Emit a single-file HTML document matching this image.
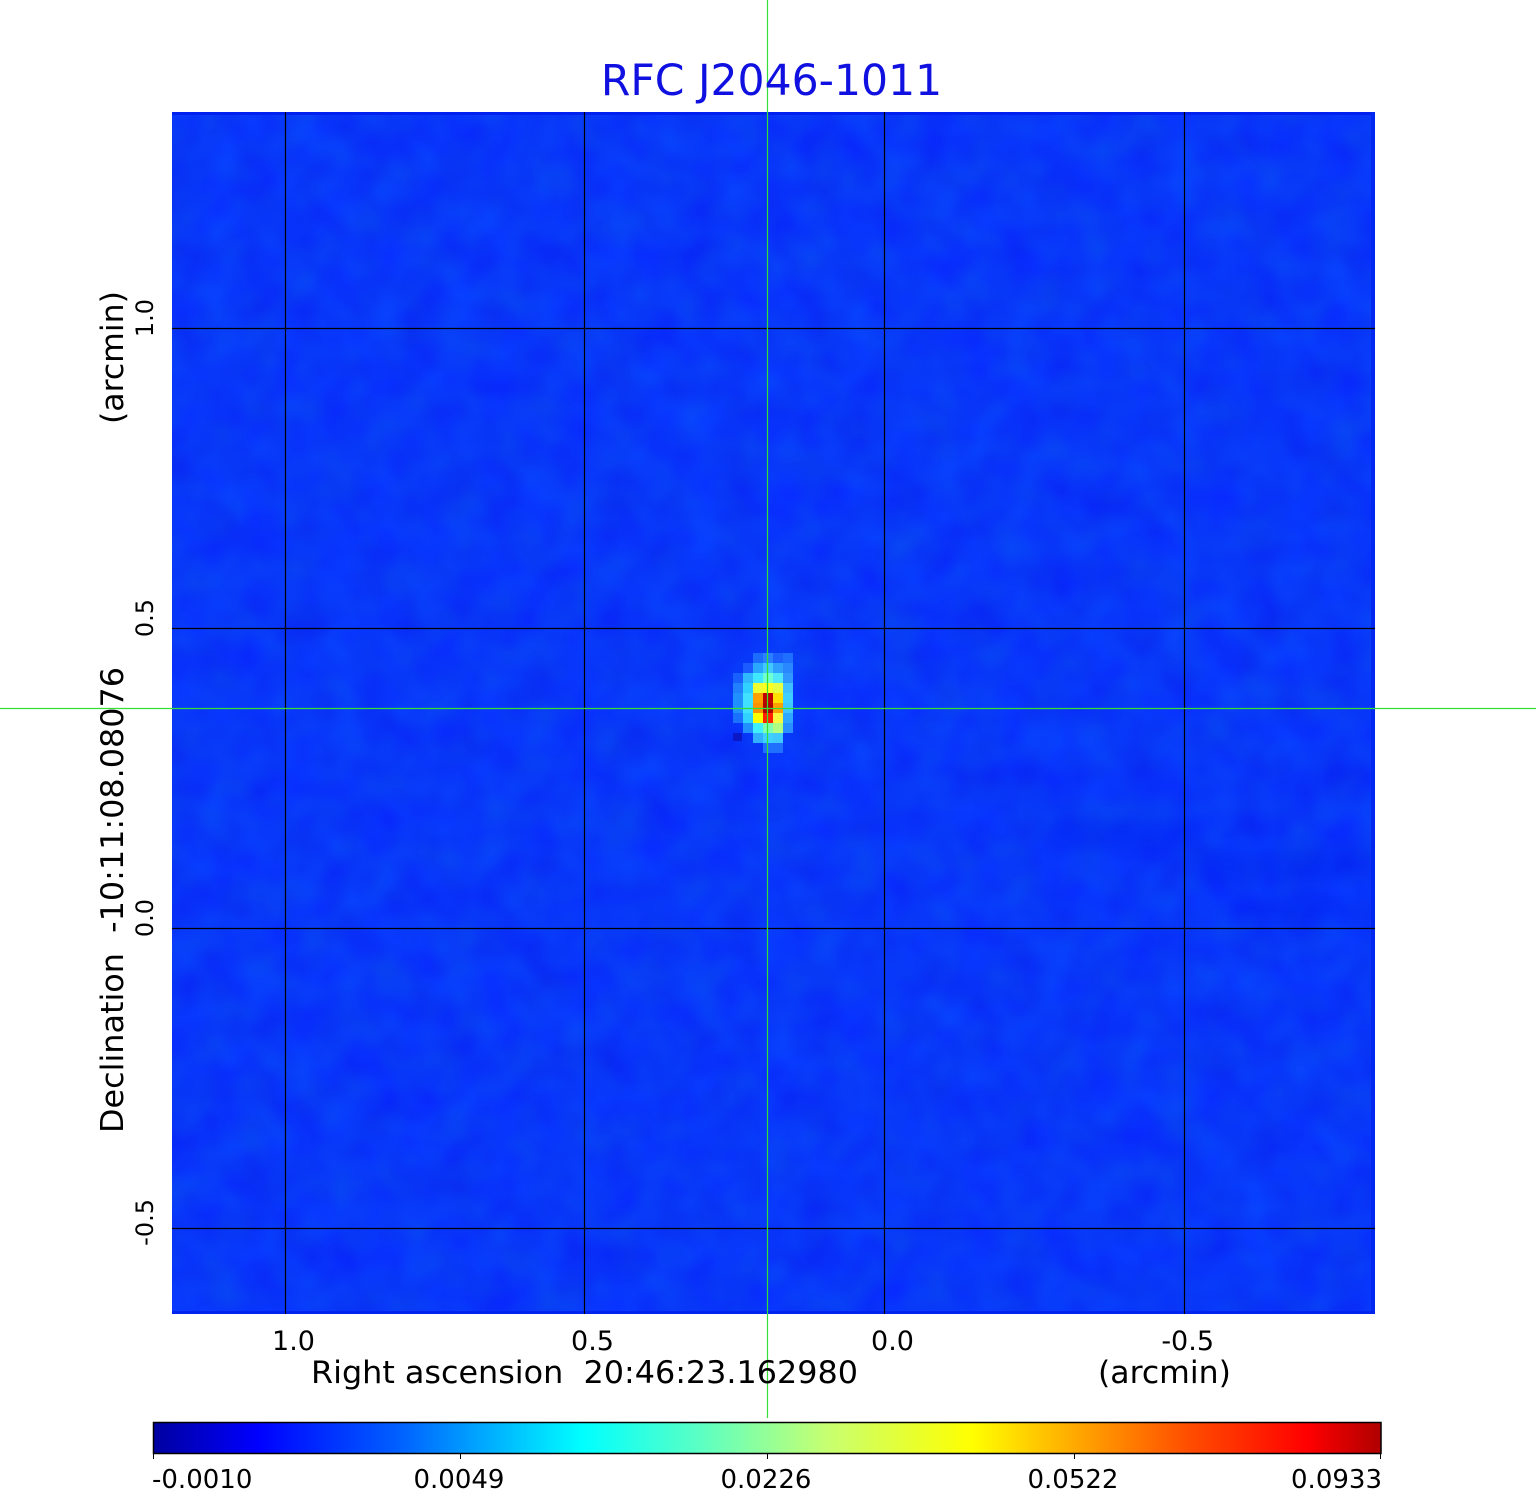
<!DOCTYPE html>
<html>
<head>
<meta charset="utf-8">
<style>
  html, body { margin: 0; padding: 0; background: #ffffff; }
  body { width: 1536px; height: 1511px; overflow: hidden; }
  svg { display: block; }
  text { font-family: "DejaVu Sans", "Liberation Sans", sans-serif; fill: #000; }
</style>
</head>
<body>
<svg width="1536" height="1511" viewBox="0 0 1536 1511" xmlns="http://www.w3.org/2000/svg">
  <defs>
    <linearGradient id="cb" x1="0" y1="0" x2="1" y2="0">
      <stop offset="0" stop-color="#0000a0"/>
      <stop offset="0.085" stop-color="#0000ff"/>
      <stop offset="0.2" stop-color="#0060ff"/>
      <stop offset="0.35" stop-color="#00ffff"/>
      <stop offset="0.45" stop-color="#60ffc0"/>
      <stop offset="0.55" stop-color="#c8ff70"/>
      <stop offset="0.667" stop-color="#ffff00"/>
      <stop offset="0.75" stop-color="#ffaa00"/>
      <stop offset="0.84" stop-color="#ff5000"/>
      <stop offset="0.94" stop-color="#ff0000"/>
      <stop offset="1" stop-color="#b00000"/>
    </linearGradient>
    <filter id="noise" x="0" y="0" width="100%" height="100%" filterUnits="objectBoundingBox" color-interpolation-filters="sRGB">
      <feTurbulence type="fractalNoise" baseFrequency="0.025" numOctaves="2" seed="7" result="t"/>
      <feColorMatrix in="t" type="matrix" values="0 0 0 0 0.03  0.24 0 0 0 0.10  0 0.12 0 0 0.9  0 0 0 0 1"/>
    </filter>
    <filter id="soft" x="-20%" y="-50%" width="140%" height="200%" color-interpolation-filters="sRGB">
      <feGaussianBlur stdDeviation="8"/>
    </filter>
  </defs>

  <!-- image field -->
  <rect x="172" y="112" width="1203" height="1202" fill="#0a36ff"/>
  <rect x="172" y="112" width="1203" height="1202" filter="url(#noise)" opacity="0.6"/>
  <rect x="172" y="112" width="1203" height="3" fill="#0020f0"/>
  <rect x="1371" y="112" width="4" height="1202" fill="#0028f0"/>
  <rect x="172" y="1311" width="1203" height="3" fill="#0024f0"/>
  <!-- soft darker streaks -->
  <g fill="#0018f0" opacity="0.35" filter="url(#soft)">
    <rect x="1200" y="850" width="160" height="30"/>
    <rect x="1050" y="820" width="150" height="25"/>
    <rect x="1230" y="900" width="130" height="20"/>
  </g>

  <!-- source blob -->
  <g>
    <rect x="753" y="653" width="10" height="10" fill="#1c6cff"/>
    <rect x="763" y="653" width="10" height="10" fill="#2a80ff"/>
    <rect x="773" y="653" width="10" height="10" fill="#1c60ff"/>
    <rect x="783" y="653" width="10" height="10" fill="#2070ff"/>

    <rect x="743" y="663" width="10" height="10" fill="#1a5cff"/>
    <rect x="753" y="663" width="10" height="10" fill="#2aa8ff"/>
    <rect x="763" y="663" width="10" height="10" fill="#40c8ff"/>
    <rect x="773" y="663" width="10" height="10" fill="#30a0ff"/>
    <rect x="783" y="663" width="10" height="10" fill="#2a88ff"/>

    <rect x="733" y="673" width="10" height="10" fill="#1860ff"/>
    <rect x="743" y="673" width="10" height="10" fill="#30b8ff"/>
    <rect x="753" y="673" width="10" height="10" fill="#40e8ff"/>
    <rect x="763" y="673" width="10" height="10" fill="#70ffd0"/>
    <rect x="773" y="673" width="10" height="10" fill="#50e8f8"/>
    <rect x="783" y="673" width="10" height="10" fill="#3098ff"/>

    <rect x="733" y="683" width="10" height="10" fill="#2080ff"/>
    <rect x="743" y="683" width="10" height="10" fill="#30d0ff"/>
    <rect x="753" y="683" width="10" height="10" fill="#f0ff30"/>
    <rect x="763" y="683" width="10" height="10" fill="#ffff20"/>
    <rect x="773" y="683" width="10" height="10" fill="#e8ff40"/>
    <rect x="783" y="683" width="10" height="10" fill="#40c0ff"/>

    <rect x="733" y="693" width="10" height="10" fill="#2090ff"/>
    <rect x="743" y="693" width="10" height="10" fill="#40e0ff"/>
    <rect x="753" y="693" width="10" height="10" fill="#ffa000"/>
    <rect x="763" y="693" width="10" height="10" fill="#c00000"/>
    <rect x="773" y="693" width="10" height="10" fill="#ffe000"/>
    <rect x="783" y="693" width="10" height="10" fill="#40d0ff"/>

    <rect x="733" y="703" width="10" height="10" fill="#2090ff"/>
    <rect x="743" y="703" width="10" height="10" fill="#40e0ff"/>
    <rect x="753" y="703" width="10" height="10" fill="#ff9000"/>
    <rect x="763" y="703" width="10" height="10" fill="#b00000"/>
    <rect x="773" y="703" width="10" height="10" fill="#ffa000"/>
    <rect x="783" y="703" width="10" height="10" fill="#40c8ff"/>

    <rect x="733" y="713" width="10" height="10" fill="#1a70ff"/>
    <rect x="743" y="713" width="10" height="10" fill="#30d0ff"/>
    <rect x="753" y="713" width="10" height="10" fill="#ffff00"/>
    <rect x="763" y="713" width="10" height="10" fill="#ff2000"/>
    <rect x="773" y="713" width="10" height="10" fill="#f8f840"/>
    <rect x="783" y="713" width="10" height="10" fill="#30a8ff"/>

    <rect x="743" y="723" width="10" height="10" fill="#2090ff"/>
    <rect x="753" y="723" width="10" height="10" fill="#40f0ff"/>
    <rect x="763" y="723" width="10" height="10" fill="#80ffb0"/>
    <rect x="773" y="723" width="10" height="10" fill="#b0ff80"/>
    <rect x="783" y="723" width="10" height="10" fill="#2a90ff"/>

    <rect x="733" y="733" width="9" height="8" fill="#0a18c8"/>
    <rect x="753" y="733" width="10" height="10" fill="#30b0ff"/>
    <rect x="763" y="733" width="10" height="10" fill="#40d0ff"/>
    <rect x="773" y="733" width="10" height="10" fill="#40c8ff"/>

    <rect x="763" y="743" width="10" height="10" fill="#2070ff"/>
    <rect x="773" y="743" width="10" height="10" fill="#2070ff"/>
  </g>

  <!-- grid lines -->
  <g stroke="#000" stroke-width="1.2">
    <line x1="285.5" y1="112" x2="285.5" y2="1314"/>
    <line x1="584.5" y1="112" x2="584.5" y2="1314"/>
    <line x1="884.5" y1="112" x2="884.5" y2="1314"/>
    <line x1="1184.5" y1="112" x2="1184.5" y2="1314"/>
    <line x1="172" y1="328.5" x2="1375" y2="328.5"/>
    <line x1="172" y1="628.5" x2="1375" y2="628.5"/>
    <line x1="172" y1="928.5" x2="1375" y2="928.5"/>
    <line x1="172" y1="1228.5" x2="1375" y2="1228.5"/>
  </g>

  <!-- green crosshair -->
  <g stroke="#33e033" stroke-width="1.2">
    <line x1="767.5" y1="0" x2="767.5" y2="1418"/>
    <line x1="0" y1="708.5" x2="1536" y2="708.5"/>
  </g>

  <!-- title -->
  <text x="771.5" y="95" font-size="42.5" text-anchor="middle" style="fill:#1010e0">RFC J2046-1011</text>

  <!-- x tick labels -->
  <g font-size="27" text-anchor="end">
    <text x="315" y="1350">1.0</text>
    <text x="614" y="1350">0.5</text>
    <text x="914" y="1350">0.0</text>
    <text x="1214" y="1350">-0.5</text>
  </g>
  <text x="311" y="1383" font-size="31.5" textLength="547" lengthAdjust="spacingAndGlyphs" xml:space="preserve">Right ascension  20:46:23.162980</text>
  <text x="1098" y="1383" font-size="31.5">(arcmin)</text>

  <!-- y tick labels -->
  <g font-size="24" text-anchor="end">
    <text transform="translate(153,299) rotate(-90)">1.0</text>
    <text transform="translate(153,599) rotate(-90)">0.5</text>
    <text transform="translate(153,899) rotate(-90)">0.0</text>
    <text transform="translate(153,1199) rotate(-90)">-0.5</text>
  </g>
  <text transform="translate(123,1133) rotate(-90)" font-size="31.5" textLength="466" lengthAdjust="spacingAndGlyphs" xml:space="preserve">Declination  -10:11:08.08076</text>
  <text transform="translate(123,424) rotate(-90)" font-size="31.5">(arcmin)</text>

  <!-- colorbar -->
  <rect x="153.5" y="1422.5" width="1227.5" height="31" fill="url(#cb)" stroke="#000" stroke-width="1.5"/>
  <g stroke="#000" stroke-width="1">
    <line x1="153.5" y1="1453" x2="153.5" y2="1459"/>
    <line x1="460.5" y1="1453" x2="460.5" y2="1459"/>
    <line x1="767.5" y1="1453" x2="767.5" y2="1459"/>
    <line x1="1074.5" y1="1453" x2="1074.5" y2="1459"/>
    <line x1="1380.5" y1="1453" x2="1380.5" y2="1459"/>
  </g>
  <g font-size="26">
    <text x="152" y="1488">-0.0010</text>
    <text x="459" y="1488" text-anchor="middle">0.0049</text>
    <text x="766" y="1488" text-anchor="middle">0.0226</text>
    <text x="1073" y="1488" text-anchor="middle">0.0522</text>
    <text x="1382" y="1488" text-anchor="end">0.0933</text>
  </g>
</svg>
</body>
</html>
